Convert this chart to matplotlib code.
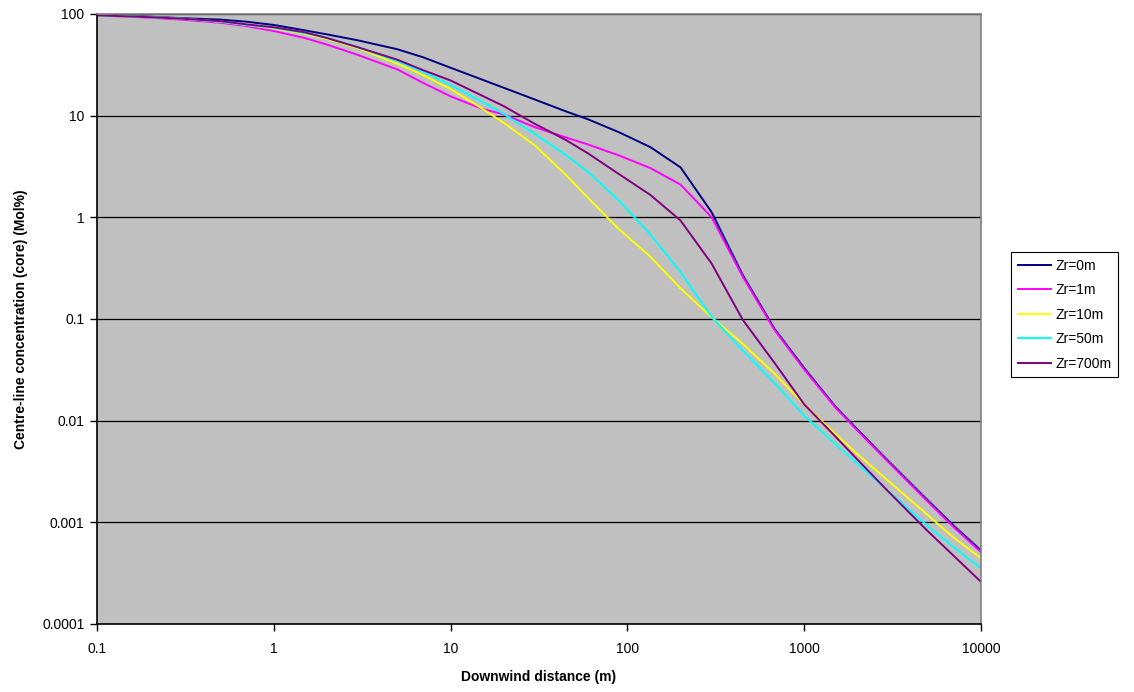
import matplotlib
matplotlib.use("Agg")
import matplotlib.pyplot as plt
from matplotlib.ticker import NullLocator

plt.rcParams['font.family'] = ['Liberation Sans', 'DejaVu Sans']

# downwind distance (m)
distance = [0.1, 0.2, 0.3, 0.5, 0.7, 1, 1.5, 2, 3, 5, 7, 10, 15, 20, 30, 45, 60,
            90, 135, 200, 300, 450, 680, 1000, 1500, 2000, 3000, 5000, 7000, 10000]

# centre-line concentration (Mol%) for each receptor height
zr_0m = [98, 94, 91, 88, 84, 78, 69, 63, 55, 45, 37.5, 29.6, 22.7, 18.8, 14.4, 11.0, 9.2,
         6.85, 4.9, 3.1, 1.12, 0.27, 0.08, 0.033, 0.0138, 0.0082, 0.0040, 0.00165, 0.00093, 0.00053]
zr_1m = [97, 92, 88, 82, 76, 68, 58, 50, 39.5, 28.5, 21, 15.5, 11.7, 10.3, 7.7, 6.1, 5.2,
         4.05, 3.05, 2.1, 1.0, 0.26, 0.078, 0.032, 0.0135, 0.008, 0.0039, 0.0016, 0.0009, 0.00051]
zr_10m = [97, 93, 90, 84, 78, 72, 64, 57, 46, 32.5, 25, 18.3, 11.8, 8.5, 5.1, 2.6, 1.55,
          0.76, 0.41, 0.2, 0.104, 0.057, 0.029, 0.0145, 0.0074, 0.0047, 0.00255, 0.00118, 0.00071, 0.000444]
zr_50m = [97, 93, 90, 84, 78, 73, 65, 58.5, 47, 34.5, 27, 20, 13.8, 10.4, 6.6, 4.1, 2.8,
          1.45, 0.68, 0.29, 0.105, 0.049, 0.0235, 0.0112, 0.0059, 0.00377, 0.00202, 0.00092, 0.00057, 0.000355]
zr_700m = [97, 93, 90, 85, 79, 74, 66, 58, 47, 35.5, 28, 22.2, 15.8, 12.4, 8.3, 5.75, 4.25,
           2.65, 1.66, 0.93, 0.35, 0.098, 0.037, 0.0145, 0.007, 0.00415, 0.002, 0.00082, 0.00047, 0.00026]

series = [('Zr=0m', zr_0m, '#000080'),
          ('Zr=1m', zr_1m, '#FF00FF'),
          ('Zr=10m', zr_10m, '#FFFF00'),
          ('Zr=50m', zr_50m, '#00FFFF'),
          ('Zr=700m', zr_700m, '#800080')]

x_ticks = [0.1, 1, 10, 100, 1000, 10000]
x_labels = ['0.1', '1', '10', '100', '1000', '10000']
y_ticks = [0.0001, 0.001, 0.01, 0.1, 1, 10, 100]
y_labels = ['0.0001', '0.001', '0.01', '0.1', '1', '10', '100']

fig = plt.figure(figsize=(11.34, 6.92), dpi=100)
ax = fig.add_axes([0.0855, 0.0983, 0.7795, 0.8815])
ax.set_facecolor('#C0C0C0')

for name, vals, col in series:
    ax.plot(distance, vals, color=col, lw=1.4, label=name)

ax.set_xscale('log')
ax.set_yscale('log')
ax.set_xlim(0.1, 10000)
ax.set_ylim(0.0001, 100)
ax.set_xticks(x_ticks)
ax.set_xticklabels(x_labels)
ax.set_yticks(y_ticks)
ax.set_yticklabels(y_labels)
ax.xaxis.set_minor_locator(NullLocator())
ax.yaxis.set_minor_locator(NullLocator())
ax.tick_params(axis='both', direction='out', length=5, width=1, labelsize=10, colors='black')
ax.tick_params(axis='x', pad=8)
ax.tick_params(axis='y', pad=4)

ax.yaxis.grid(True, color='black', lw=0.9)
ax.set_axisbelow(True)

for side in ['top', 'right']:
    ax.spines[side].set_color('#808080')
for side in ['left', 'bottom']:
    ax.spines[side].set_color('black')
for sp in ax.spines.values():
    sp.set_linewidth(1.2)

ax.set_xlabel('Downwind distance (m)', fontsize=10, fontweight='bold', labelpad=10)
ax.set_ylabel('Centre-line concentration (core) (Mol%)', fontsize=10, fontweight='bold', labelpad=10)

leg = ax.legend(loc='center left', bbox_to_anchor=(1.034, 0.507), borderaxespad=0, fontsize=10,
                frameon=True, fancybox=False, framealpha=1, edgecolor='black',
                handlelength=2.4, handletextpad=0.3, borderpad=0.5, labelspacing=0.75)
leg.get_frame().set_linewidth(0.8)

fig.savefig('out.png', dpi=100)
